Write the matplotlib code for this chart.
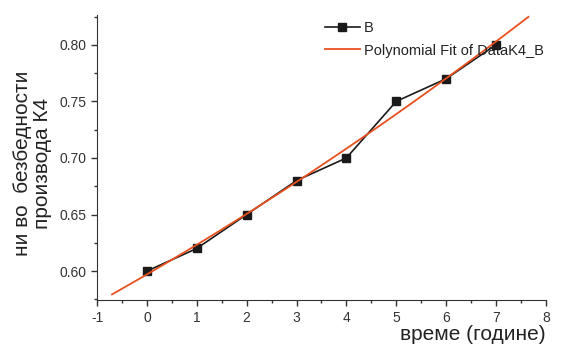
import numpy as np
import matplotlib.pyplot as plt
from matplotlib.ticker import MultipleLocator

plt.rcParams['font.family'] = ['Liberation Sans', 'DejaVu Sans']
plt.rcParams['axes.unicode_minus'] = False

years = [0, 1, 2, 3, 4, 5, 6, 7]
safety = [0.60, 0.62, 0.65, 0.68, 0.70, 0.75, 0.77, 0.80]

# polynomial fit of the data, drawn a bit past the data range
coef = np.polyfit(years, safety, 2)
fit_x = np.linspace(-0.7, 7.65, 100)
fit_y = np.polyval(coef, fit_x)

fig = plt.figure(figsize=(5.61, 3.45), dpi=100)
ax = fig.add_axes([0.173, 0.130, 0.800, 0.827])

ax.plot(years, safety, color='#1a1a1a', lw=1.2, marker='s', ms=6,
        label='B', zorder=3)
ax.plot(fit_x, fit_y, color='#e8501e', lw=1.3,
        label='Polynomial Fit of DataK4_B', zorder=4)

ax.set_xlim(-1, 8)
ax.set_ylim(0.5743, 0.8265)
ax.xaxis.set_major_locator(MultipleLocator(1))
ax.xaxis.set_minor_locator(MultipleLocator(0.5))
ax.yaxis.set_major_locator(MultipleLocator(0.05))
ax.yaxis.set_minor_locator(MultipleLocator(0.025))
ax.yaxis.set_major_formatter(plt.FormatStrFormatter('%.2f'))

for s in ['top', 'right']:
    ax.spines[s].set_visible(False)
for s in ['left', 'bottom']:
    ax.spines[s].set_color('#333333')

ax.tick_params(which='major', length=4, width=1, labelsize=10,
               colors='#333333', labelcolor='#333333')
ax.tick_params(which='minor', length=2.5, width=1, colors='#333333')

ax.set_ylabel('ни во  безбедности\nпроизвода К4', fontsize=15,
              color='#222222', linespacing=1.1)
ax.yaxis.set_label_coords(-0.10, 0.48)
ax.yaxis.label.set_verticalalignment('bottom')

ax.set_xlabel('време (године)', fontsize=15, color='#222222')
ax.xaxis.set_label_coords(1.0, -0.122)
ax.xaxis.label.set_horizontalalignment('right')
ax.xaxis.label.set_verticalalignment('center')

ax.legend(loc='upper left', bbox_to_anchor=(0.478, 1.025), frameon=False,
          fontsize=10.5, handlelength=2.4, handletextpad=0.3,
          labelspacing=0.6, labelcolor='#222222')

fig.savefig('out.png', dpi=100)
